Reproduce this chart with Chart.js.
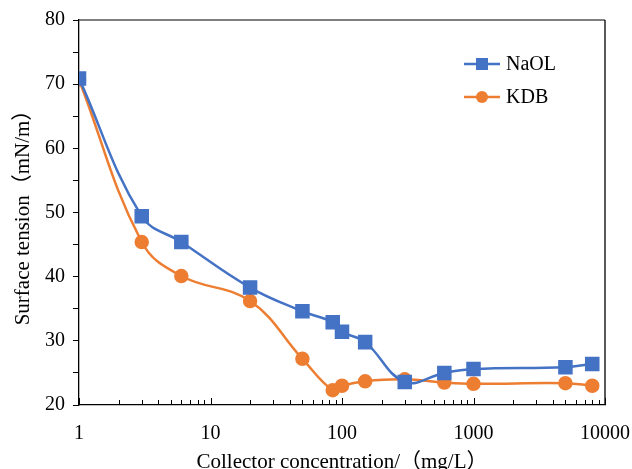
<!DOCTYPE html>
<html><head><meta charset="utf-8">
<script src="https://cdn.jsdelivr.net/npm/chart.js@4/dist/chart.umd.min.js"></script>
<style>html,body{margin:0;padding:0;background:#fff}#wrap{width:632px;height:469px}</style>
</head><body><div id="wrap"><canvas id="c" width="632" height="469"></canvas></div>
<script>
const concentrations = [1, 3, 6, 20, 50, 85, 100, 150, 300, 600, 1000, 5000, 8000];
const naolValues = [70.9, 49.4, 45.4, 38.3, 34.6, 32.9, 31.4, 29.8, 23.6, 25.0, 25.6, 25.9, 26.4];
const kdbValues  = [70.7, 45.4, 40.1, 36.2, 27.2, 22.3, 23.0, 23.7, 24.0, 23.5, 23.3, 23.4, 23.0];
const xMajorTicks = [1, 10, 100, 1000, 10000];
const yTicks = [20, 30, 40, 50, 60, 70, 80];
const seriesNames = ['NaOL', 'KDB'];

const FONT = "'Liberation Serif', 'Times New Roman', 'Noto Sans CJK SC', serif";
const BLUE = '#4472C4', ORANGE = '#ED7D31';

const xAllTicks = [];
xMajorTicks.forEach((m, i) => {
  if (i < xMajorTicks.length - 1) { for (let k = 1; k <= 9; k++) xAllTicks.push(m * k); }
  else xAllTicks.push(m);
});

const frame = {
  id: 'frame',
  afterDatasetsDraw(chart) {
    const {ctx, chartArea: a} = chart;
    const xs = chart.scales.x;
    ctx.save();
    ctx.strokeStyle = '#000'; ctx.lineWidth = 1;
    xAllTicks.forEach(v => {
      const px = Math.round(xs.getPixelForValue(v)) + 0.5;
      const len = xMajorTicks.includes(v) ? 7 : 5;
      ctx.beginPath(); ctx.moveTo(px, a.bottom); ctx.lineTo(px, a.bottom - len); ctx.stroke();
    });
    ctx.lineWidth = 1.3;
    ctx.strokeStyle = '#555';
    ctx.beginPath(); ctx.moveTo(a.left, a.top); ctx.lineTo(a.right, a.top); ctx.stroke();
    ctx.strokeStyle = '#000';
    ctx.beginPath(); ctx.moveTo(a.right, a.top); ctx.lineTo(a.right, a.bottom); ctx.stroke();
    chart.data.datasets.forEach((ds, i) => {
      const y = 64 + i * 33;
      const x0 = 464, x1 = 500;
      ctx.strokeStyle = ds.borderColor; ctx.lineWidth = 2.5;
      ctx.beginPath(); ctx.moveTo(x0, y); ctx.lineTo(x1, y); ctx.stroke();
      ctx.fillStyle = ds.backgroundColor;
      if (ds.pointStyle === 'rect') { ctx.fillRect(482 - 6, y - 6, 12, 12); }
      else { ctx.beginPath(); ctx.arc(482, y, 6, 0, Math.PI * 2); ctx.fill(); }
      ctx.fillStyle = '#000'; ctx.font = "20px " + FONT; ctx.textBaseline = 'middle'; ctx.textAlign = 'left';
      ctx.fillText(ds.label, 506, y + 1);
    });
    ctx.restore();
  }
};

new Chart(document.getElementById('c'), {
  type: 'line',
  data: {
    datasets: [
      { label: seriesNames[0], data: concentrations.map((x, i) => ({x, y: naolValues[i]})),
        borderColor: BLUE, backgroundColor: BLUE, borderWidth: 2.5, pointStyle: 'rect', pointRadius: 8.5, tension: 0.4 },
      { label: seriesNames[1], data: concentrations.map((x, i) => ({x, y: kdbValues[i]})),
        borderColor: ORANGE, backgroundColor: ORANGE, borderWidth: 2.5, pointStyle: 'circle', pointRadius: 6, tension: 0.4 }
    ]
  },
  options: {
    responsive: false, animation: false, devicePixelRatio: 1,
    layout: { padding: { top: 20, right: 27, left: 0, bottom: 0 } },
    plugins: { legend: { display: false }, tooltip: { enabled: false } },
    scales: {
      x: {
        type: 'logarithmic', min: 1, max: 10000,
        afterBuildTicks: s => { s.ticks = xAllTicks.map(v => ({value: v})); },
        afterFit: s => { s.height = 64; s.paddingLeft = 0; s.paddingRight = 0; },
        grid: { drawOnChartArea: false, drawTicks: false },
        border: { color: '#000', width: 1.3 },
        ticks: { autoSkip: false, maxRotation: 0, color: '#000', padding: 17, font: { family: FONT, size: 20 },
          callback: v => xMajorTicks.includes(v) ? String(v) : '' },
        title: { display: true, text: 'Collector concentration/（mg/L）', color: '#000', font: { family: FONT, size: 21, lineHeight: 1 }, padding: { top: 0, bottom: -4 } }
      },
      y: {
        min: 20, max: 80,
        afterBuildTicks: s => { const t = []; for (let v = 20; v <= 80; v += 5) t.push({value: v}); s.ticks = t; },
        afterFit: s => { s.width = 79; s.paddingTop = 0; s.paddingBottom = 0; },
        grid: { drawOnChartArea: false, drawTicks: true, tickLength: 6, color: '#000', lineWidth: 1 },
        border: { color: '#000', width: 1.3 },
        ticks: { color: '#000', padding: 8, font: { family: FONT, size: 20 },
          callback: v => yTicks.includes(v) ? String(v) : '' },
        title: { display: true, text: 'Surface tension（mN/m）', color: '#000', font: { family: FONT, size: 21, lineHeight: 1 }, padding: { top: 13, bottom: 0 } }
      }
    }
  },
  plugins: [frame]
});
</script></body></html>
